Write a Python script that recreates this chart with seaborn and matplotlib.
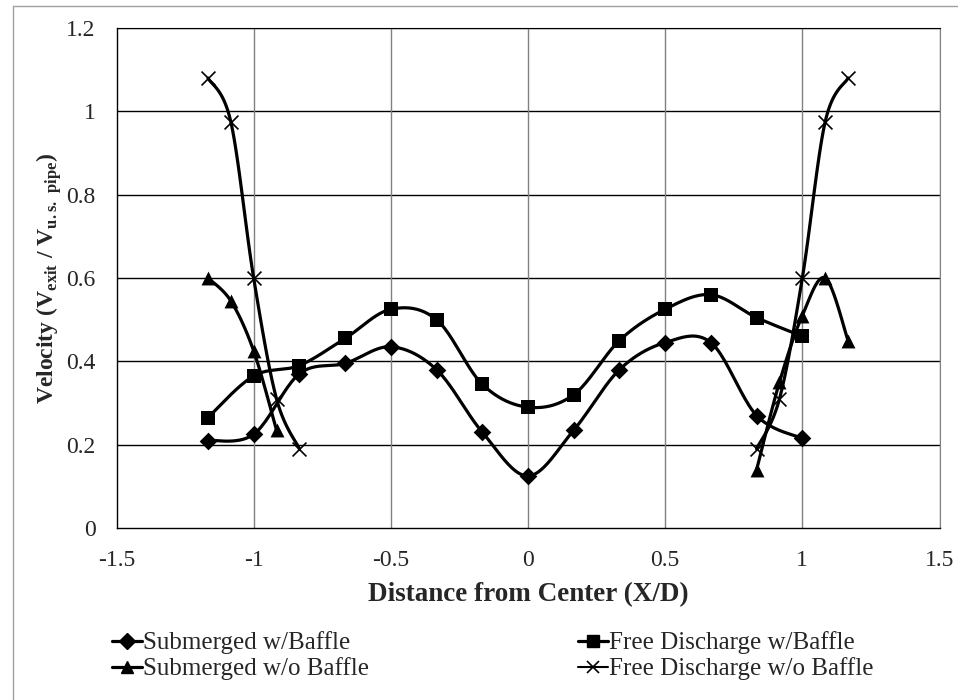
import numpy as np
import pandas as pd
import matplotlib
matplotlib.use("Agg")
import matplotlib.pyplot as plt
from matplotlib.lines import Line2D
from matplotlib.ticker import FuncFormatter
import seaborn as sns

# 数据 (X/D 位置与速度比)
x_main = [-7/6, -1.0, -5/6, -2/3, -0.5, -1/3, -1/6, 0.0, 1/6, 1/3, 0.5, 2/3, 5/6, 1.0]
sub_baffle = [0.21, 0.225, 0.37, 0.395, 0.435, 0.38, 0.23, 0.125, 0.235, 0.38, 0.445, 0.445, 0.27, 0.215]
free_baffle = [0.265, 0.365, 0.39, 0.455, 0.525, 0.50, 0.345, 0.29, 0.32, 0.45, 0.525, 0.56, 0.505, 0.46]

x_edge_left = [-7/6, -13/12, -1.0, -11/12, -5/6]
x_edge_right = [5/6, 11/12, 1.0, 13/12, 7/6]
sub_nobaffle_left = [0.60, 0.545, 0.425, 0.235, np.nan]
sub_nobaffle_right = [0.14, 0.35, 0.51, 0.60, 0.45]
free_nobaffle_left = [1.08, 0.975, 0.60, 0.31, 0.19]
free_nobaffle_right = [0.19, 0.31, 0.60, 0.975, 1.08]

labels = ["Submerged w/Baffle", "Free Discharge w/Baffle",
          "Submerged w/o Baffle", "Free Discharge w/o Baffle"]


def smooth(xs, ys, n=24):
    # Excel 风格的平滑线 (Catmull-Rom 贝塞尔)
    pts = [(a, b) for a, b in zip(xs, ys) if not np.isnan(b)]
    p = np.array(pts)
    if len(p) < 3:
        return p[:, 0], p[:, 1]
    ext = np.vstack([p[0], p, p[-1]])
    out = []
    t = np.linspace(0, 1, n)[:, None]
    for i in range(1, len(ext) - 2):
        p0, p1, p2, p3 = ext[i - 1], ext[i], ext[i + 1], ext[i + 2]
        c1 = p1 + (p2 - p0) / 6
        c2 = p2 - (p3 - p1) / 6
        seg = ((1 - t) ** 3) * p1 + 3 * ((1 - t) ** 2) * t * c1 + 3 * (1 - t) * t ** 2 * c2 + t ** 3 * p2
        out.append(seg if i == 1 else seg[1:])
    out = np.vstack(out)
    return out[:, 0], out[:, 1]


sns.set_style("white")
plt.rcParams['font.family'] = ['Liberation Serif', 'DejaVu Serif']
plt.rcParams['mathtext.fontset'] = 'custom'
plt.rcParams['mathtext.rm'] = 'Liberation Serif'
plt.rcParams['mathtext.bf'] = 'Liberation Serif:bold'

fig = plt.figure(figsize=(9.58, 7), dpi=100)
ax = fig.add_axes([116.5 / 958, 1 - 528 / 700, (939.5 - 116.5) / 958, (528 - 28) / 700])

series = [
    (x_main, sub_baffle, "D", 9),
    (x_main, free_baffle, "s", 10),
    (x_edge_left, sub_nobaffle_left, "^", 10),
    (x_edge_right, sub_nobaffle_right, "^", 10),
    (x_edge_left, free_nobaffle_left, "x", 10),
    (x_edge_right, free_nobaffle_right, "x", 10),
]

for xs, ys, mk, ms in series:
    sx, sy = smooth(xs, ys)
    sns.lineplot(x=sx, y=sy, sort=False, estimator=None, color="black", lw=2.3, ax=ax, zorder=3)
    df = pd.DataFrame({"x": xs, "y": ys}).dropna()
    if mk == "x":
        sns.scatterplot(data=df, x="x", y="y", marker="x", s=ms ** 2, color="black",
                        linewidth=1.2, ax=ax, zorder=4)
    else:
        sns.scatterplot(data=df, x="x", y="y", marker=mk, s=ms ** 2, color="black",
                        edgecolor="black", linewidth=0, ax=ax, zorder=4)

ax.set_xlim(-1.5, 1.5)
ax.set_ylim(0, 1.2)
ax.set_xticks(np.arange(-1.5, 1.51, 0.5))
ax.set_yticks(np.arange(0, 1.21, 0.2))
ax.xaxis.set_major_formatter(FuncFormatter(lambda v, p: "%g" % round(v, 2)))
ax.yaxis.set_major_formatter(FuncFormatter(lambda v, p: "%g" % round(v, 2)))
ax.grid(False)
for yv in np.arange(0.2, 1.21, 0.2):
    ax.axhline(yv, color="black", lw=1, zorder=1)
for xv in np.arange(-1.0, 1.51, 0.5):
    ax.axvline(xv, color="#808080", lw=1, zorder=1)

for s in ["left", "bottom"]:
    ax.spines[s].set_color("black")
    ax.spines[s].set_linewidth(1)
ax.spines["right"].set_color("#808080")
ax.spines["top"].set_color("black")
ax.tick_params(axis="both", direction="inout", length=10, width=1, labelsize=17, color="black")
ax.tick_params(axis="x", pad=11)
ax.tick_params(axis="y", pad=10)

ax.set_xlabel("Distance from Center (X/D)", fontsize=19.5, fontweight="bold", labelpad=8)
ax.set_ylabel(r"Velocity (V$_{\mathbf{exit}}$ / V$_{\mathbf{u.s.\ pipe}}$)",
              fontsize=17, fontweight="bold", labelpad=2)

h_sub_b = Line2D([], [], color="black", lw=2.3, marker="D", ms=8)
h_sub_nb = Line2D([], [], color="black", lw=2.3, marker="^", ms=9)
h_free_b = Line2D([], [], color="black", lw=2.3, marker="s", ms=9)
h_free_nb = Line2D([], [], color="black", lw=1.5, marker="x", ms=9, mew=1.2)

leg_kw = dict(loc="center left", frameon=False, fontsize=18, handlelength=1.2,
              handletextpad=0.05, labelspacing=0.12, borderpad=0, borderaxespad=0)
fig.legend([h_sub_b, h_sub_nb], [labels[0], labels[2]],
           bbox_to_anchor=(112 / 958, 1 - 656 / 700), **leg_kw)
fig.legend([h_free_b, h_free_nb], [labels[1], labels[3]],
           bbox_to_anchor=(578 / 958, 1 - 656 / 700), **leg_kw)

# 外边框 (图表区域)
fig.add_artist(Line2D([13 / 958, 13 / 958], [0, 1 - 6 / 700], transform=fig.transFigure,
                      color="#a0a0a0", lw=1))
fig.add_artist(Line2D([13 / 958, 1], [1 - 6 / 700, 1 - 6 / 700], transform=fig.transFigure,
                      color="#a0a0a0", lw=1))

fig.savefig("out.png", dpi=100)
